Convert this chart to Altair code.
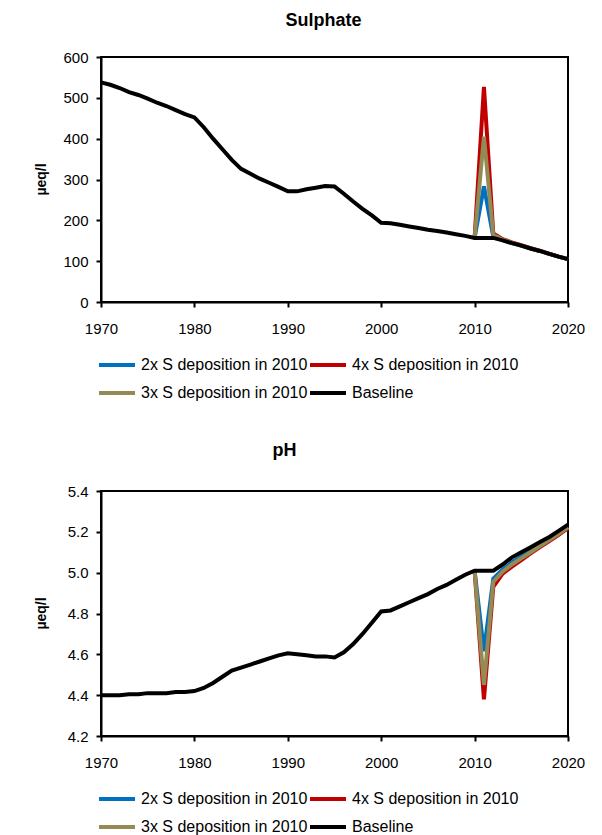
import altair as alt
import pandas as pd

years = list(range(1970, 2021))
scen_years = list(range(2010, 2021))

# legend is filled column by column: 2x, 3x | 4x, Baseline
series_names = ["2x S deposition in 2010", "3x S deposition in 2010",
                "4x S deposition in 2010", "Baseline"]
series_colors = ["#0070C0", "#948A54", "#C00000", "#000000"]

sulphate_baseline = [538, 532, 524, 514, 507, 498, 488, 480, 470, 460,
                     452, 428, 400, 374, 348, 326, 314, 302, 292, 282,
                     271, 271, 276, 280, 284, 283, 265, 246, 228, 212,
                     194, 193, 189, 185, 181, 177, 174, 170, 166, 162,
                     157, 157, 157, 151, 144, 138, 131, 125, 118, 111, 105]
sulphate_2x = [157, 283, 160, 152, 144, 138, 131, 125, 118, 111, 105]
sulphate_3x = [157, 405, 164, 153, 145, 138, 131, 125, 118, 111, 105]
sulphate_4x = [157, 527, 168, 154, 146, 139, 132, 125, 118, 111, 105]

ph_baseline = [4.40, 4.40, 4.40, 4.405, 4.405, 4.41, 4.41, 4.41, 4.415, 4.415,
               4.42, 4.435, 4.46, 4.49, 4.52, 4.535, 4.55, 4.565, 4.58, 4.595,
               4.605, 4.60, 4.595, 4.59, 4.59, 4.585, 4.61, 4.65, 4.70, 4.755,
               4.81, 4.815, 4.835, 4.855, 4.875, 4.895, 4.92, 4.94, 4.965, 4.99,
               5.01, 5.01, 5.01, 5.04, 5.075, 5.10, 5.125, 5.15, 5.175, 5.205, 5.235]
ph_2x = [5.01, 4.615, 4.97, 5.015, 5.05, 5.08, 5.11, 5.14, 5.165, 5.195, 5.225]
ph_3x = [5.01, 4.45, 4.955, 5.005, 5.04, 5.07, 5.10, 5.13, 5.16, 5.19, 5.222]
ph_4x = [5.01, 4.38, 4.93, 4.995, 5.03, 5.062, 5.095, 5.125, 5.155, 5.185, 5.218]

x_ticks = [1970, 1980, 1990, 2000, 2010, 2020]
sulphate_ticks = [0, 100, 200, 300, 400, 500, 600]
ph_ticks = [4.2, 4.4, 4.6, 4.8, 5.0, 5.2, 5.4]

FONT = "Liberation Sans"


def make_df(baseline, s2, s3, s4):
    rows = []
    for name, ys, vals in [("2x S deposition in 2010", scen_years, s2),
                           ("4x S deposition in 2010", scen_years, s4),
                           ("3x S deposition in 2010", scen_years, s3),
                           ("Baseline", years, baseline)]:
        for yr, v in zip(ys, vals):
            rows.append({"year": yr, "value": v, "series": name})
    return pd.DataFrame(rows)


def panel(df, title, ydomain, yticks, yformat, title_dx, title_offset):
    color = alt.Color(
        "series:N",
        scale=alt.Scale(domain=series_names, range=series_colors),
        legend=alt.Legend(
            title=None, orient="none", legendX=-4, legendY=298,
            columns=2, symbolType="stroke", symbolSize=1296,
            symbolStrokeWidth=4, clipHeight=20, rowPadding=8,
            columnPadding=0, labelFont=FONT, labelFontSize=16,
            labelColor="black", labelOffset=4, labelLimit=400, padding=0,
            symbolOffset=0,
        ),
    )
    x = alt.X("year:Q", scale=alt.Scale(domain=[1970, 2020], nice=False),
              axis=alt.Axis(values=x_ticks, format="d", title=None,
                            labelPadding=14, labelFlush=False))
    y = alt.Y("value:Q",
              scale=alt.Scale(domain=ydomain, nice=False, zero=False),
              axis=alt.Axis(values=yticks, format=yformat, title="µeq/l",
                            titleX=-60, titleY=122, titleAngle=-90,
                            titleAlign="center", titleBaseline="middle",
                            labelPadding=8, labelFlush=False))
    scen = alt.Chart(df[df.series != "Baseline"]).mark_line(
        strokeWidth=4).encode(x=x, y=y, color=color, detail="series:N")
    base = alt.Chart(df[df.series == "Baseline"]).mark_line(
        strokeWidth=4).encode(x=x, y=y, color=color)
    return alt.layer(scen, base).properties(
        width=467, height=245,
        title=alt.TitleParams(title, font=FONT, fontSize=18, fontWeight="bold",
                              color="black", anchor="middle", dx=title_dx,
                              offset=title_offset),
    )


top = panel(make_df(sulphate_baseline, sulphate_2x, sulphate_3x, sulphate_4x),
            "Sulphate", [0, 600], sulphate_ticks, "d", -11, 20)
bottom = panel(make_df(ph_baseline, ph_2x, ph_3x, ph_4x),
               "pH", [4.2, 5.4], ph_ticks, ".1f", -50, 24)

chart = alt.vconcat(top, bottom, spacing=37).resolve_scale(
    color="independent"
).configure_view(
    stroke="black", strokeWidth=2
).configure_axis(
    grid=False, domainColor="black", domainWidth=2, tickColor="black",
    tickWidth=2, tickSize=5, labelFont=FONT, labelFontSize=15,
    labelColor="black", titleFont=FONT, titleFontSize=14,
    titleFontWeight="bold", titleColor="black"
).properties(padding={"left": 25, "top": 3, "right": 5, "bottom": 0})

chart.save("out.html", embed_options={"renderer": "svg", "actions": False})
